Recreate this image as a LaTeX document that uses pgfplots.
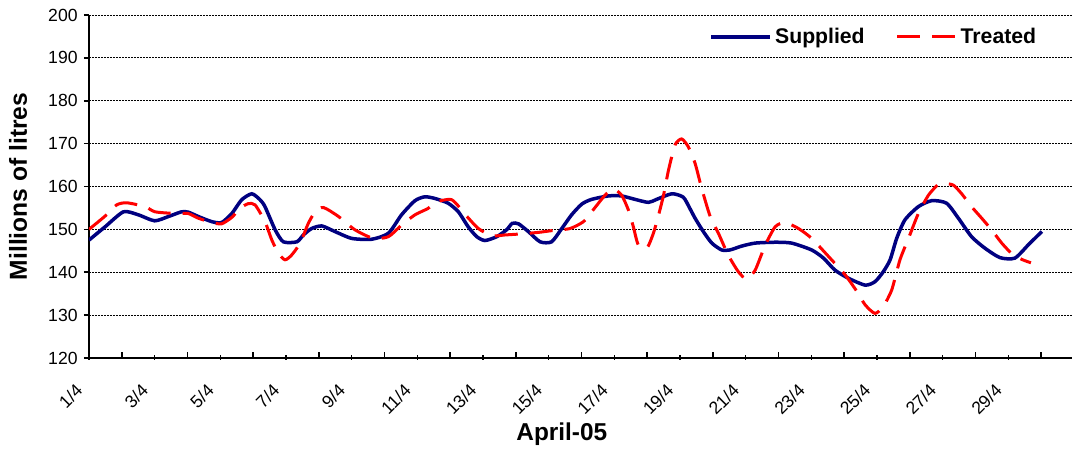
\documentclass[border=0pt]{standalone}
\usepackage{pgfplots}
\pgfplotsset{compat=1.18}
\usepackage{fontspec}
\setmainfont{Liberation Sans}
\definecolor{supblue}{RGB}{0,0,128}
\definecolor{trtred}{RGB}{255,0,0}

\begin{document}
\begin{tikzpicture}
\begin{axis}[
    name=ax,
    scale only axis,
    width=491.5pt, height=171.5pt,
    xmin=1, xmax=30.94,
    ymin=120, ymax=200,
    ytick={120,130,...,200},
    xtick={1,3,...,29},
    minor xtick={2,4,...,30},
    xticklabels={1/4,3/4,5/4,7/4,9/4,11/4,13/4,15/4,17/4,19/4,21/4,23/4,25/4,27/4,29/4},
    axis lines=left,
    axis line style={-, line width=1pt, black},
    tick align=outside,
    major tick length=2.5pt,
    minor tick length=2.5pt,
    tick style={line width=0.8pt, black},
    xtick style={yshift=1.5pt},
    minor x tick style={yshift=1.5pt},
    ymajorgrids,
    grid style={black, line width=0.5pt, dash pattern=on 0.9pt off 0.6pt},
    /pgf/number format/assume math mode=true,
    yticklabel style={font=\fontsize{8.8}{10}\selectfont, anchor=east, inner sep=0pt, xshift=-3pt},
    xticklabel style={font=\fontsize{8.8}{10}\selectfont, xshift=-4.75pt, yshift=-12pt, rotate=45, anchor=east, inner sep=0pt},
    xlabel={April-05},
    ylabel={Millions of litres},
    xlabel style={font=\fontsize{12.2}{14}\selectfont\bfseries, at={(rel axis cs:0.481,0)}, anchor=base, yshift=-41.5pt},
    ylabel style={font=\fontsize{12.3}{14}\selectfont\bfseries, at={(rel axis cs:0,0.5)}, anchor=center, yshift=35.5pt},
    legend columns=2,
    legend image code/.code={\draw[#1] (0pt,0pt) -- (29.5pt,0pt);},
    legend style={at={(rel axis cs:0.631,0.936)}, anchor=west, draw=none, fill=none, inner sep=0pt,
        font=\fontsize{10.6}{12}\selectfont\bfseries,
        nodes={inner sep=1.5pt},
        /tikz/every even column/.append style={column sep=14pt}},
]
\addplot[supblue, line width=1.75pt, smooth, tension=0.4] coordinates {
(1,147.5) (1.49,150.6) (2.05,154.1) (2.5,153.4) (3.0,152.0) (3.42,153.0) (3.82,154.1) (4.03,154.0)
(4.33,153.0) (4.74,151.8) (5.04,151.6) (5.35,153.7) (5.65,156.9) (5.96,158.3) (6.21,156.9) (6.36,155.3)
(6.67,149.9) (6.92,147.1) (7.33,147.1) (7.53,148.7) (7.78,150.2) (8.09,150.8) (8.49,149.5) (9.0,147.9)
(9.61,147.7) (10.12,149.1) (10.52,153.4) (10.93,156.7) (11.23,157.6) (11.54,157.2) (11.94,156.1) (12.25,154.1)
(12.55,150.6) (12.81,148.3) (13.06,147.4) (13.42,148.3) (13.72,149.9) (13.89,151.4) (14.08,151.3) (14.38,149.5)
(14.74,147.1) (15.09,147.1) (15.4,150.2) (15.7,153.4) (16.01,155.9) (16.31,157.0) (16.82,157.8) (17.22,157.8)
(17.63,157.0) (18.04,156.3) (18.29,157.0) (18.75,158.3) (19.1,157.5) (19.3,154.9) (19.46,152.6) (19.71,149.5)
(19.97,146.8) (20.27,145.2) (20.52,145.2) (20.88,146.1) (21.29,146.8) (21.9,147.0) (22.4,146.8) (23.01,145.2)
(23.37,143.3) (23.72,140.5) (24.13,138.6) (24.64,137.0) (24.94,137.8) (25.19,140.1) (25.4,142.9) (25.6,147.9)
(25.85,152.2) (26.26,155.3) (26.67,156.7) (27.12,156.1) (27.48,152.6) (27.88,148.3) (28.29,145.6) (28.75,143.4)
(29.2,143.3) (29.61,146.4) (30.02,149.5)
};
\addlegendentry{Supplied}
\addplot[trtred, line width=1.5pt, smooth, tension=0.4, dash pattern=on 11.5pt off 6pt] coordinates {
(1,150.0) (1.49,153.1) (1.84,155.7) (2.15,156.2) (2.71,155.3) (3.01,154.1) (3.62,153.7) (4.02,153.7)
(4.33,152.6) (4.74,151.6) (5.04,151.3) (5.35,152.8) (5.6,154.9) (5.85,156.0) (6.06,155.7) (6.36,151.8)
(6.57,147.5) (6.77,144.4) (6.97,142.9) (7.17,144.0) (7.43,146.8) (7.68,151.4) (7.89,154.1) (8.14,155.1)
(8.6,153.0) (9.1,149.9) (9.66,147.9) (10.12,148.3) (10.52,151.0) (10.93,153.4) (11.33,154.9) (11.54,156.3)
(12.05,156.9) (12.5,153.1) (12.86,150.2) (13.27,148.5) (13.67,148.7) (14.08,148.9) (14.69,149.3) (15.09,149.7)
(15.65,150.2) (16.06,151.8) (16.31,154.1) (16.72,158.0) (16.97,159.4) (17.22,158.0) (17.43,154.5) (17.58,150.6)
(17.73,146.4) (17.99,145.6) (18.19,149.1) (18.36,153.7) (18.5,158.0) (18.65,163.8) (18.85,169.7) (19.05,171.1)
(19.25,169.3) (19.46,165.4) (19.66,159.6) (19.92,153.0) (20.17,149.1) (20.47,144.0) (20.78,140.1) (21.03,138.4)
(21.29,140.5) (21.59,146.2) (21.9,150.6) (22.2,151.6) (22.61,150.2) (23.01,147.9) (23.57,143.3) (24.03,139.4)
(24.39,135.5) (24.64,132.4) (24.94,130.4) (25.19,132.0) (25.45,135.9) (25.7,142.9) (25.96,147.9) (26.26,153.7)
(26.57,158.0) (26.87,160.5) (27.07,160.7) (27.33,160.3) (27.58,158.3) (27.88,155.3) (28.19,152.6) (28.49,149.9)
(28.8,146.8) (29.1,144.4) (29.41,143.0) (29.69,142.2)
};
\addlegendentry{Treated}
\end{axis}
\pgfresetboundingbox
\useasboundingbox ([xshift=-44.5pt,yshift=7.5pt]ax.north west) rectangle ([yshift=-46pt]ax.south east);
\end{tikzpicture}
\end{document}
